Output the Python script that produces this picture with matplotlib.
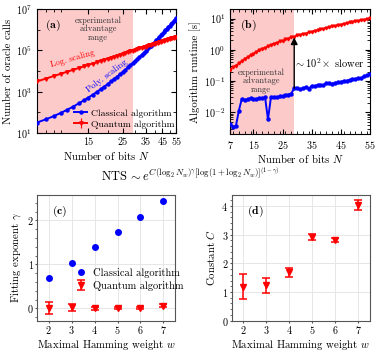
import matplotlib
matplotlib.use('Agg')
import matplotlib.pyplot as plt
from matplotlib.ticker import FixedLocator, NullFormatter, LogLocator, MultipleLocator

plt.rcParams['font.family'] = 'serif'
plt.rcParams['font.serif'] = ['cmr10', 'DejaVu Serif']
plt.rcParams['mathtext.fontset'] = 'cm'
plt.rcParams['axes.unicode_minus'] = False
plt.rcParams['axes.formatter.use_mathtext'] = True

# ---------------- data ----------------
bits = list(range(7, 56))

classical_calls = [3.24e1, 4.65e1, 6.67e1, 9.57e1, 1.368e2, 1.936e2, 2.723e2, 3.802e2, 5.26e2,
                   7.228e2, 9.84e2, 1.33e3, 1.791e3, 2.382e3, 3.155e3, 4.159e3, 5.445e3, 7.079e3,
                   9.162e3, 1.178e4, 1.51e4, 1.923e4, 2.438e4, 3.076e4, 3.873e4, 4.842e4, 6.039e4,
                   7.499e4, 9.29e4, 1.143e5, 1.406e5, 1.722e5, 2.104e5, 2.559e5, 3.105e5, 3.75e5,
                   4.539e5, 5.458e5, 6.546e5, 7.852e5, 9.354e5, 1.114e6, 1.327e6, 1.574e6, 1.862e6,
                   2.198e6, 2.594e6, 3.048e6, 3.581e6]

quantum_calls = [3162, 4365, 5808, 7499, 9441, 11650, 14140, 16900, 20000, 23390, 27050, 31100,
                 35460, 40110, 45140, 50530, 56270, 62370, 68830, 75720, 82960, 90610, 98610,
                 106900, 115900, 125000, 134800, 144800, 155400, 166300, 177700, 189700, 201900,
                 214600, 227800, 241500, 255800, 270400, 285400, 301100, 317200, 333700, 350800,
                 368400, 386700, 405200, 424400, 443800, 464200]

classical_runtime = [0.00413, 0.00333, 0.00371, 0.0113, 0.0268, 0.0250, 0.0259, 0.0278, 0.0259,
                     0.0268, 0.0288, 0.0278, 0.0299, 0.00592, 0.0299, 0.0310, 0.0299, 0.0321,
                     0.0321, 0.0357, 0.0371, 0.0398, 0.0591, 0.0613, 0.0551, 0.0591, 0.0635,
                     0.0570, 0.0708, 0.0683, 0.0734, 0.0761, 0.0734, 0.0848, 0.0879, 0.0818,
                     0.0879, 0.0910, 0.0944, 0.1014, 0.1014, 0.109, 0.113, 0.117, 0.121, 0.126,
                     0.140, 0.151, 0.174]

quantum_runtime = [0.234, 0.282, 0.309, 0.380, 0.427, 0.525, 0.575, 0.676, 0.741, 0.871, 0.955,
                   1.096, 1.148, 1.318, 1.413, 1.585, 1.660, 1.862, 1.905, 2.188, 2.291, 2.570,
                   2.630, 2.917, 2.985, 3.273, 3.311, 3.673, 3.758, 4.121, 4.169, 4.624, 4.677,
                   5.129, 5.188, 5.689, 5.754, 6.237, 6.383, 6.918, 6.998, 7.499, 7.674, 8.318,
                   8.414, 9.016, 9.120, 9.772, 10.23]

weights = [2, 3, 4, 5, 6, 7]
gamma_classical = [0.68, 1.04, 1.39, 1.74, 2.08, 2.44]
gamma_quantum = [0.01, 0.03, 0.0, 0.0, 0.0, 0.06]
gamma_quantum_err = [0.13, 0.08, 0.03, 0.025, 0.025, 0.03]
C_quantum = [1.19, 1.24, 1.69, 2.92, 2.80, 4.02]
C_quantum_err = [0.44, 0.26, 0.15, 0.10, 0.07, 0.17]

advantage_limit = 29

BLUE = '#0000ff'
RED = '#ff0000'
SHADE = '#fdcaca'

fig = plt.figure(figsize=(3.81, 3.53), dpi=100)
axa = fig.add_axes([0.097, 0.623, 0.365, 0.351])
axb = fig.add_axes([0.604, 0.620, 0.367, 0.354])
axc = fig.add_axes([0.098, 0.0915, 0.361, 0.356])
axd = fig.add_axes([0.608, 0.0915, 0.363, 0.356])

lab_fs = 7.8
tick_fs = 7.3

# ---------------- (a) ----------------
axa.axvspan(7, advantage_limit, color=SHADE, lw=0, zorder=0)
axa.plot(bits, classical_calls, '-o', color=BLUE, ms=2.2, lw=1.4, label='Classical algorithm', zorder=3)
axa.errorbar(bits, quantum_calls, yerr=[v * 0.04 for v in quantum_calls], fmt='-v', color=RED,
             ms=2.5, lw=1.4, elinewidth=0.8, capsize=0, label='Quantum algorithm', zorder=3)
axa.set_xscale('log')
axa.set_yscale('log')
axa.set_xlim(7, 55)
axa.set_ylim(10, 1e7)
axa.xaxis.set_major_locator(FixedLocator([15, 25, 35, 45, 55]))
axa.xaxis.set_minor_locator(FixedLocator([8, 9, 10, 20, 30, 40, 50]))
axa.xaxis.set_major_formatter(plt.FuncFormatter(lambda v, p: f'{int(round(v))}'))
axa.xaxis.set_minor_formatter(NullFormatter())
axa.yaxis.set_major_locator(FixedLocator([1e1, 1e3, 1e5, 1e7]))
axa.yaxis.set_minor_locator(FixedLocator([1e2, 1e4, 1e6]))
axa.yaxis.set_minor_formatter(NullFormatter())
axa.set_xlabel(r'Number of bits $N$', fontsize=lab_fs, labelpad=1)
axa.set_ylabel('Number of oracle calls', fontsize=lab_fs, labelpad=2)
axa.text(0.055, 0.87, r'$\mathbf{(a)}$', transform=axa.transAxes, fontsize=8.5, va='center')
axa.text(0.44, 0.84, 'experimental\nadvantage\nrange', transform=axa.transAxes, fontsize=6,
         ha='center', va='center', linespacing=1.0, color='#333333')
axa.text(0.26, 0.60, 'Log. scaling', transform=axa.transAxes, fontsize=6.3, color=RED,
         rotation=16, ha='center', va='center')
axa.text(0.50, 0.46, 'Poly. scaling', transform=axa.transAxes, fontsize=6.3, color=BLUE,
         rotation=37, ha='center', va='center')
axa.legend(loc='lower right', bbox_to_anchor=(1.04, -0.02), frameon=False, fontsize=7,
           handlelength=1.4, handletextpad=0.4, borderpad=0.2, labelspacing=0.25)

# ---------------- (b) ----------------
axb.axvspan(7, advantage_limit, color=SHADE, lw=0, zorder=0)
axb.plot(bits, classical_runtime, '-o', color=BLUE, ms=2.2, lw=1.4, zorder=3)
axb.errorbar(bits, quantum_runtime, yerr=[v * 0.06 for v in quantum_runtime], fmt='-v', color=RED,
             ms=2.0, lw=1.2, elinewidth=0.7, capsize=0, zorder=3)
axb.set_yscale('log')
axb.set_xlim(7, 55)
axb.set_ylim(0.002, 20)
axb.xaxis.set_major_locator(FixedLocator([7, 15, 25, 35, 45, 55]))
axb.xaxis.set_minor_locator(MultipleLocator(2))
axb.yaxis.set_major_locator(FixedLocator([1e-2, 1e-1, 1e0, 1e1]))
axb.yaxis.set_minor_locator(LogLocator(subs=range(2, 10)))
axb.yaxis.set_minor_formatter(NullFormatter())
axb.set_xlabel(r'Number of bits $N$', fontsize=lab_fs, labelpad=1)
axb.set_ylabel('Algorithm runtime [s]', fontsize=lab_fs, labelpad=2)
axb.text(0.07, 0.87, r'$\mathbf{(b)}$', transform=axb.transAxes, fontsize=8.5, va='center')
axb.text(0.22, 0.426, 'experimental\nadvantage\nrange', transform=axb.transAxes, fontsize=6,
         ha='center', va='center', linespacing=1.0, color='#333333')
i29 = bits.index(advantage_limit)
axb.annotate('', xy=(advantage_limit, quantum_runtime[i29] * 0.95),
             xytext=(advantage_limit, classical_runtime[i29]),
             arrowprops=dict(arrowstyle='-|>', color='black', lw=1.0, mutation_scale=10,
                             shrinkA=0, shrinkB=0), zorder=5)
axb.text(0.71, 0.57, r'$\sim 10^2\!\times$ slower', transform=axb.transAxes, fontsize=7.5,
         ha='center', va='center')

for ax in (axa, axb):
    ax.tick_params(which='both', direction='in', top=True, right=True, labelsize=tick_fs)
    ax.tick_params(which='major', length=3.5)
    ax.tick_params(which='minor', length=2)

# ---------------- formula ----------------
fig.text(0.5, 0.504,
         r'NTS$\,\sim e^{C(\log_2 N_w)^{\gamma}[\log(1+\log_2 N_w)]^{(1-\gamma)}}$',
         ha='center', va='center', fontsize=9)

# ---------------- (c) ----------------
axc.plot(weights, gamma_classical, 'o', color=BLUE, ms=4, label='Classical algorithm', zorder=3)
axc.errorbar(weights, gamma_quantum, yerr=gamma_quantum_err, fmt='v', color=RED, ms=4,
             capsize=3, elinewidth=1.1, capthick=1.1, label='Quantum algorithm', zorder=3)
axc.set_xlim(1.5, 7.5)
axc.set_ylim(-0.28, 2.575)
axc.xaxis.set_major_locator(FixedLocator(weights))
axc.yaxis.set_major_locator(FixedLocator([0, 1, 2]))
axc.yaxis.set_minor_locator(MultipleLocator(0.2))
axc.set_xlabel(r'Maximal Hamming weight $w$', fontsize=lab_fs, labelpad=1)
axc.set_ylabel(r'Fitting exponent $\gamma$', fontsize=lab_fs, labelpad=3)
axc.text(0.105, 0.867, r'$\mathbf{(c)}$', transform=axc.transAxes, fontsize=8.5, va='center')
axc.legend(loc='upper left', bbox_to_anchor=(0.22, 0.48), frameon=False, fontsize=7.5,
           handlelength=1.2, handletextpad=0.5, borderpad=0.2, labelspacing=0.3)

# ---------------- (d) ----------------
axd.errorbar(weights, C_quantum, yerr=C_quantum_err, fmt='v', color=RED, ms=4,
             capsize=3, elinewidth=1.1, capthick=1.1, zorder=3)
axd.set_xlim(1.5, 7.5)
axd.set_ylim(0, 4.38)
axd.xaxis.set_major_locator(FixedLocator(weights))
axd.yaxis.set_major_locator(FixedLocator([0, 1, 2, 3, 4]))
axd.yaxis.set_minor_locator(MultipleLocator(0.2))
axd.set_xlabel(r'Maximal Hamming weight $w$', fontsize=lab_fs, labelpad=1)
axd.set_ylabel(r'Constant $C$', fontsize=lab_fs, labelpad=3)
axd.text(0.11, 0.867, r'$\mathbf{(d)}$', transform=axd.transAxes, fontsize=8.5, va='center')

for ax in (axc, axd):
    ax.grid(True, which='major', color='#e6e6e6', lw=0.7, zorder=0)
    ax.set_axisbelow(True)
    for s in ax.spines.values():
        s.set_color('#555555')
        s.set_linewidth(0.8)
    ax.tick_params(which='both', direction='out', labelsize=tick_fs, color='#555555')
    ax.tick_params(which='major', length=1.5, pad=1)
    ax.tick_params(which='minor', length=1.5, bottom=False)

fig.savefig('out.png', dpi=100)
